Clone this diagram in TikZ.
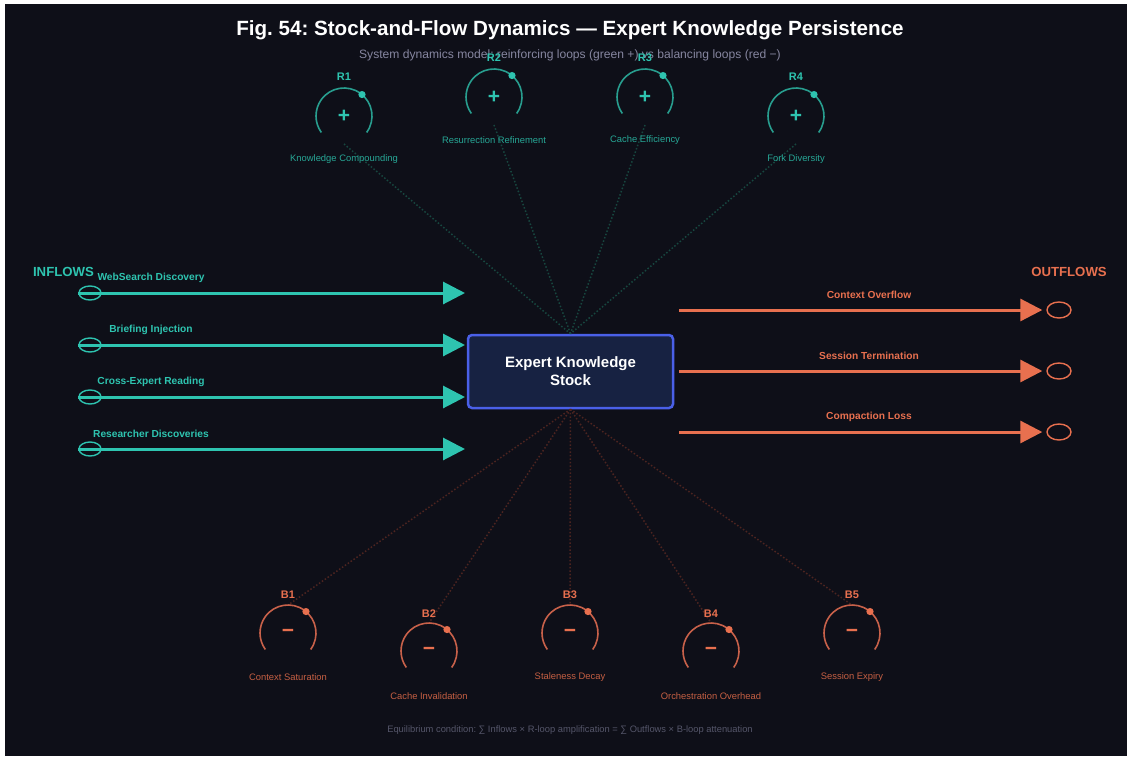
\documentclass[tikz,border=0pt]{standalone}
\usepackage{fontspec}
\setmainfont{Liberation Sans}
\usepackage{tikz}
\usetikzlibrary{arrows.meta,shapes.geometric}
\usepackage{xcolor}
\frenchspacing

\definecolor{bgdark}{HTML}{0E0F18}
\definecolor{inteal}{HTML}{2EC4B0}
\definecolor{rarccol}{HTML}{289E8F}
\definecolor{outred}{HTML}{E8704F}
\definecolor{barccol}{HTML}{C8614A}
\definecolor{stockfill}{HTML}{172242}
\definecolor{stockedge}{HTML}{4A60E8}
\definecolor{subgray}{HTML}{8686A0}
\definecolor{footgray}{HTML}{55566A}
\definecolor{rlinkcol}{HTML}{17463F}
\definecolor{blinkcol}{HTML}{4C2420}

\tikzset{
  loopnode/.style={circle,minimum size=56pt,inner sep=0pt,outer sep=0pt,font=\bfseries\fontsize{21}{21}\selectfont},
  rloop/.style={loopnode,text=inteal},
  bloop/.style={loopnode,text=outred},
  rtag/.style={text=inteal,font=\bfseries\fontsize{11}{13}\selectfont},
  btag/.style={text=outred,font=\bfseries\fontsize{11}{13}\selectfont},
  rname/.style={text=inteal!85!black,font=\fontsize{9.4}{11}\selectfont},
  bname/.style={text=outred!85!black,font=\fontsize{9.4}{11}\selectfont},
  rarc/.style={draw=rarccol,line width=1.6pt},
  barc/.style={draw=barccol,line width=1.6pt},
  rlink/.style={draw=rlinkcol,line width=1.5pt,dash pattern=on 1.5pt off 2pt},
  blink/.style={draw=blinkcol,line width=1.5pt,dash pattern=on 1.5pt off 2pt},
  cloudin/.style={ellipse,draw=inteal,line width=1.4pt,minimum width=22pt,minimum height=14pt,inner sep=0pt},
  cloudout/.style={ellipse,draw=outred,line width=1.4pt,minimum width=24pt,minimum height=16pt,inner sep=0pt},
  inflow/.style={draw=inteal,line width=3pt,-{Triangle[length=22pt,width=22pt]}},
  outflow/.style={draw=outred,line width=3pt,-{Triangle[length=22pt,width=22pt]}},
  flowlabin/.style={text=inteal,font=\bfseries\fontsize{10.2}{12}\selectfont},
  flowlabout/.style={text=outred,font=\bfseries\fontsize{10.2}{12}\selectfont}
}

\begin{document}
\begin{tikzpicture}[x=1pt,y=1pt]
% canvas
\useasboundingbox (0,0) rectangle (1127,-756);
\fill[white] (0,0) rectangle (1127,-756);
\fill[bgdark] (5,-4) rectangle (1127,-756);

% titles
\node[text=white,font=\bfseries\fontsize{20.6}{24}\selectfont] (title) at (570,-30) {Fig. 54: Stock-and-Flow Dynamics — Expert Knowledge Persistence};
\node[text=subgray,font=\fontsize{12.1}{14}\selectfont] (subtitle) at (570,-55) {System dynamics model: reinforcing loops (green +) vs balancing loops (red −)};

% stock
\node[draw=stockedge,fill=stockfill,line width=2.5pt,rounded corners=4pt,minimum width=205pt,minimum height=73pt,align=center,text=white,font=\bfseries\fontsize{15}{18}\selectfont] (stock) at (570.5,-371.5) {Expert Knowledge\\Stock};

% reinforcing loops
\node[rloop] (r1) at (344,-116) {+};
\node[rloop] (r2) at (494,-97) {+};
\node[rloop] (r3) at (645,-97) {+};
\node[rloop] (r4) at (796,-116) {+};
\draw[rlink] (r1.south) -- (stock.north);
\draw[rlink] (r2.south) -- (stock.north);
\draw[rlink] (r3.south) -- (stock.north);
\draw[rlink] (r4.south) -- (stock.north);
\draw[rarc] (r1.-36) arc[start angle=-36,end angle=216,radius=28pt];
\draw[rarc] (r2.-36) arc[start angle=-36,end angle=216,radius=28pt];
\draw[rarc] (r3.-36) arc[start angle=-36,end angle=216,radius=28pt];
\draw[rarc] (r4.-36) arc[start angle=-36,end angle=216,radius=28pt];
\fill[inteal] (r1.50) circle (3.6pt);
\fill[inteal] (r2.50) circle (3.6pt);
\fill[inteal] (r3.50) circle (3.6pt);
\fill[inteal] (r4.50) circle (3.6pt);
\node[rtag] (r1t) at (344,-77) {R1};
\node[rtag] (r2t) at (494,-58) {R2};
\node[rtag] (r3t) at (645,-58) {R3};
\node[rtag] (r4t) at (796,-77) {R4};
\node[rname] (r1n) at (344,-159) {Knowledge Compounding};
\node[rname] (r2n) at (494,-140) {Resurrection Refinement};
\node[rname] (r3n) at (645,-140) {Cache Efficiency};
\node[rname] (r4n) at (796,-159) {Fork Diversity};

% balancing loops
\node[bloop] (b1) at (288,-633) {−};
\node[bloop] (b2) at (429,-651) {−};
\node[bloop] (b3) at (570,-633) {−};
\node[bloop] (b4) at (711,-651) {−};
\node[bloop] (b5) at (852,-633) {−};
\draw[blink] (stock.south) -- (b1.north);
\draw[blink] (stock.south) -- (b2.north);
\draw[blink] (stock.south) -- (b3.north);
\draw[blink] (stock.south) -- (b4.north);
\draw[blink] (stock.south) -- (b5.north);
\draw[barc] (b1.-36) arc[start angle=-36,end angle=216,radius=28pt];
\draw[barc] (b2.-36) arc[start angle=-36,end angle=216,radius=28pt];
\draw[barc] (b3.-36) arc[start angle=-36,end angle=216,radius=28pt];
\draw[barc] (b4.-36) arc[start angle=-36,end angle=216,radius=28pt];
\draw[barc] (b5.-36) arc[start angle=-36,end angle=216,radius=28pt];
\fill[outred] (b1.50) circle (3.6pt);
\fill[outred] (b2.50) circle (3.6pt);
\fill[outred] (b3.50) circle (3.6pt);
\fill[outred] (b4.50) circle (3.6pt);
\fill[outred] (b5.50) circle (3.6pt);
\node[btag] (b1t) at (288,-595) {B1};
\node[btag] (b2t) at (429,-614) {B2};
\node[btag] (b3t) at (570,-595) {B3};
\node[btag] (b4t) at (711,-614) {B4};
\node[btag] (b5t) at (852,-595) {B5};
\node[bname] (b1n) at (288,-677) {Context Saturation};
\node[bname] (b2n) at (429,-696) {Cache Invalidation};
\node[bname] (b3n) at (570,-677) {Staleness Decay};
\node[bname] (b4n) at (711,-696) {Orchestration Overhead};
\node[bname] (b5n) at (852,-677) {Session Expiry};

% inflows
\node[text=inteal,font=\bfseries\fontsize{13.2}{15}\selectfont] (inhead) at (63.5,-272) {INFLOWS};
\node[cloudin] (ci1) at (90,-293) {};
\node[cloudin] (ci2) at (90,-345) {};
\node[cloudin] (ci3) at (90,-397) {};
\node[cloudin] (ci4) at (90,-449) {};
\coordinate (ti1) at (465,-293);
\coordinate (ti2) at (465,-345);
\coordinate (ti3) at (465,-397);
\coordinate (ti4) at (465,-449);
\draw[inflow] (ci1.west) -- (ti1);
\draw[inflow] (ci2.west) -- (ti2);
\draw[inflow] (ci3.west) -- (ti3);
\draw[inflow] (ci4.west) -- (ti4);
\node[flowlabin] (li1) at (151,-278) {WebSearch Discovery};
\node[flowlabin] (li2) at (151,-330) {Briefing Injection};
\node[flowlabin] (li3) at (151,-382) {Cross-Expert Reading};
\node[flowlabin] (li4) at (151,-434) {Researcher Discoveries};

% outflows
\node[text=outred,font=\bfseries\fontsize{13.2}{15}\selectfont] (outhead) at (1069,-272) {OUTFLOWS};
\coordinate (so1) at (679,-310);
\coordinate (so2) at (679,-371);
\coordinate (so3) at (679,-432);
\node[cloudout] (co1) at (1059,-310) {};
\node[cloudout] (co2) at (1059,-371) {};
\node[cloudout] (co3) at (1059,-432) {};
\draw[outflow,shorten >=4pt] (so1) -- (co1.west);
\draw[outflow,shorten >=4pt] (so2) -- (co2.west);
\draw[outflow,shorten >=4pt] (so3) -- (co3.west);
\node[flowlabout] (lo1) at (869,-295) {Context Overflow};
\node[flowlabout] (lo2) at (869,-356) {Session Termination};
\node[flowlabout] (lo3) at (869,-417) {Compaction Loss};

% footer
\node[text=footgray,font=\fontsize{9.35}{11}\selectfont] (footer) at (570,-730) {Equilibrium condition: ∑ Inflows × R-loop amplification = ∑ Outflows × B-loop attenuation};
\end{tikzpicture}
\end{document}
